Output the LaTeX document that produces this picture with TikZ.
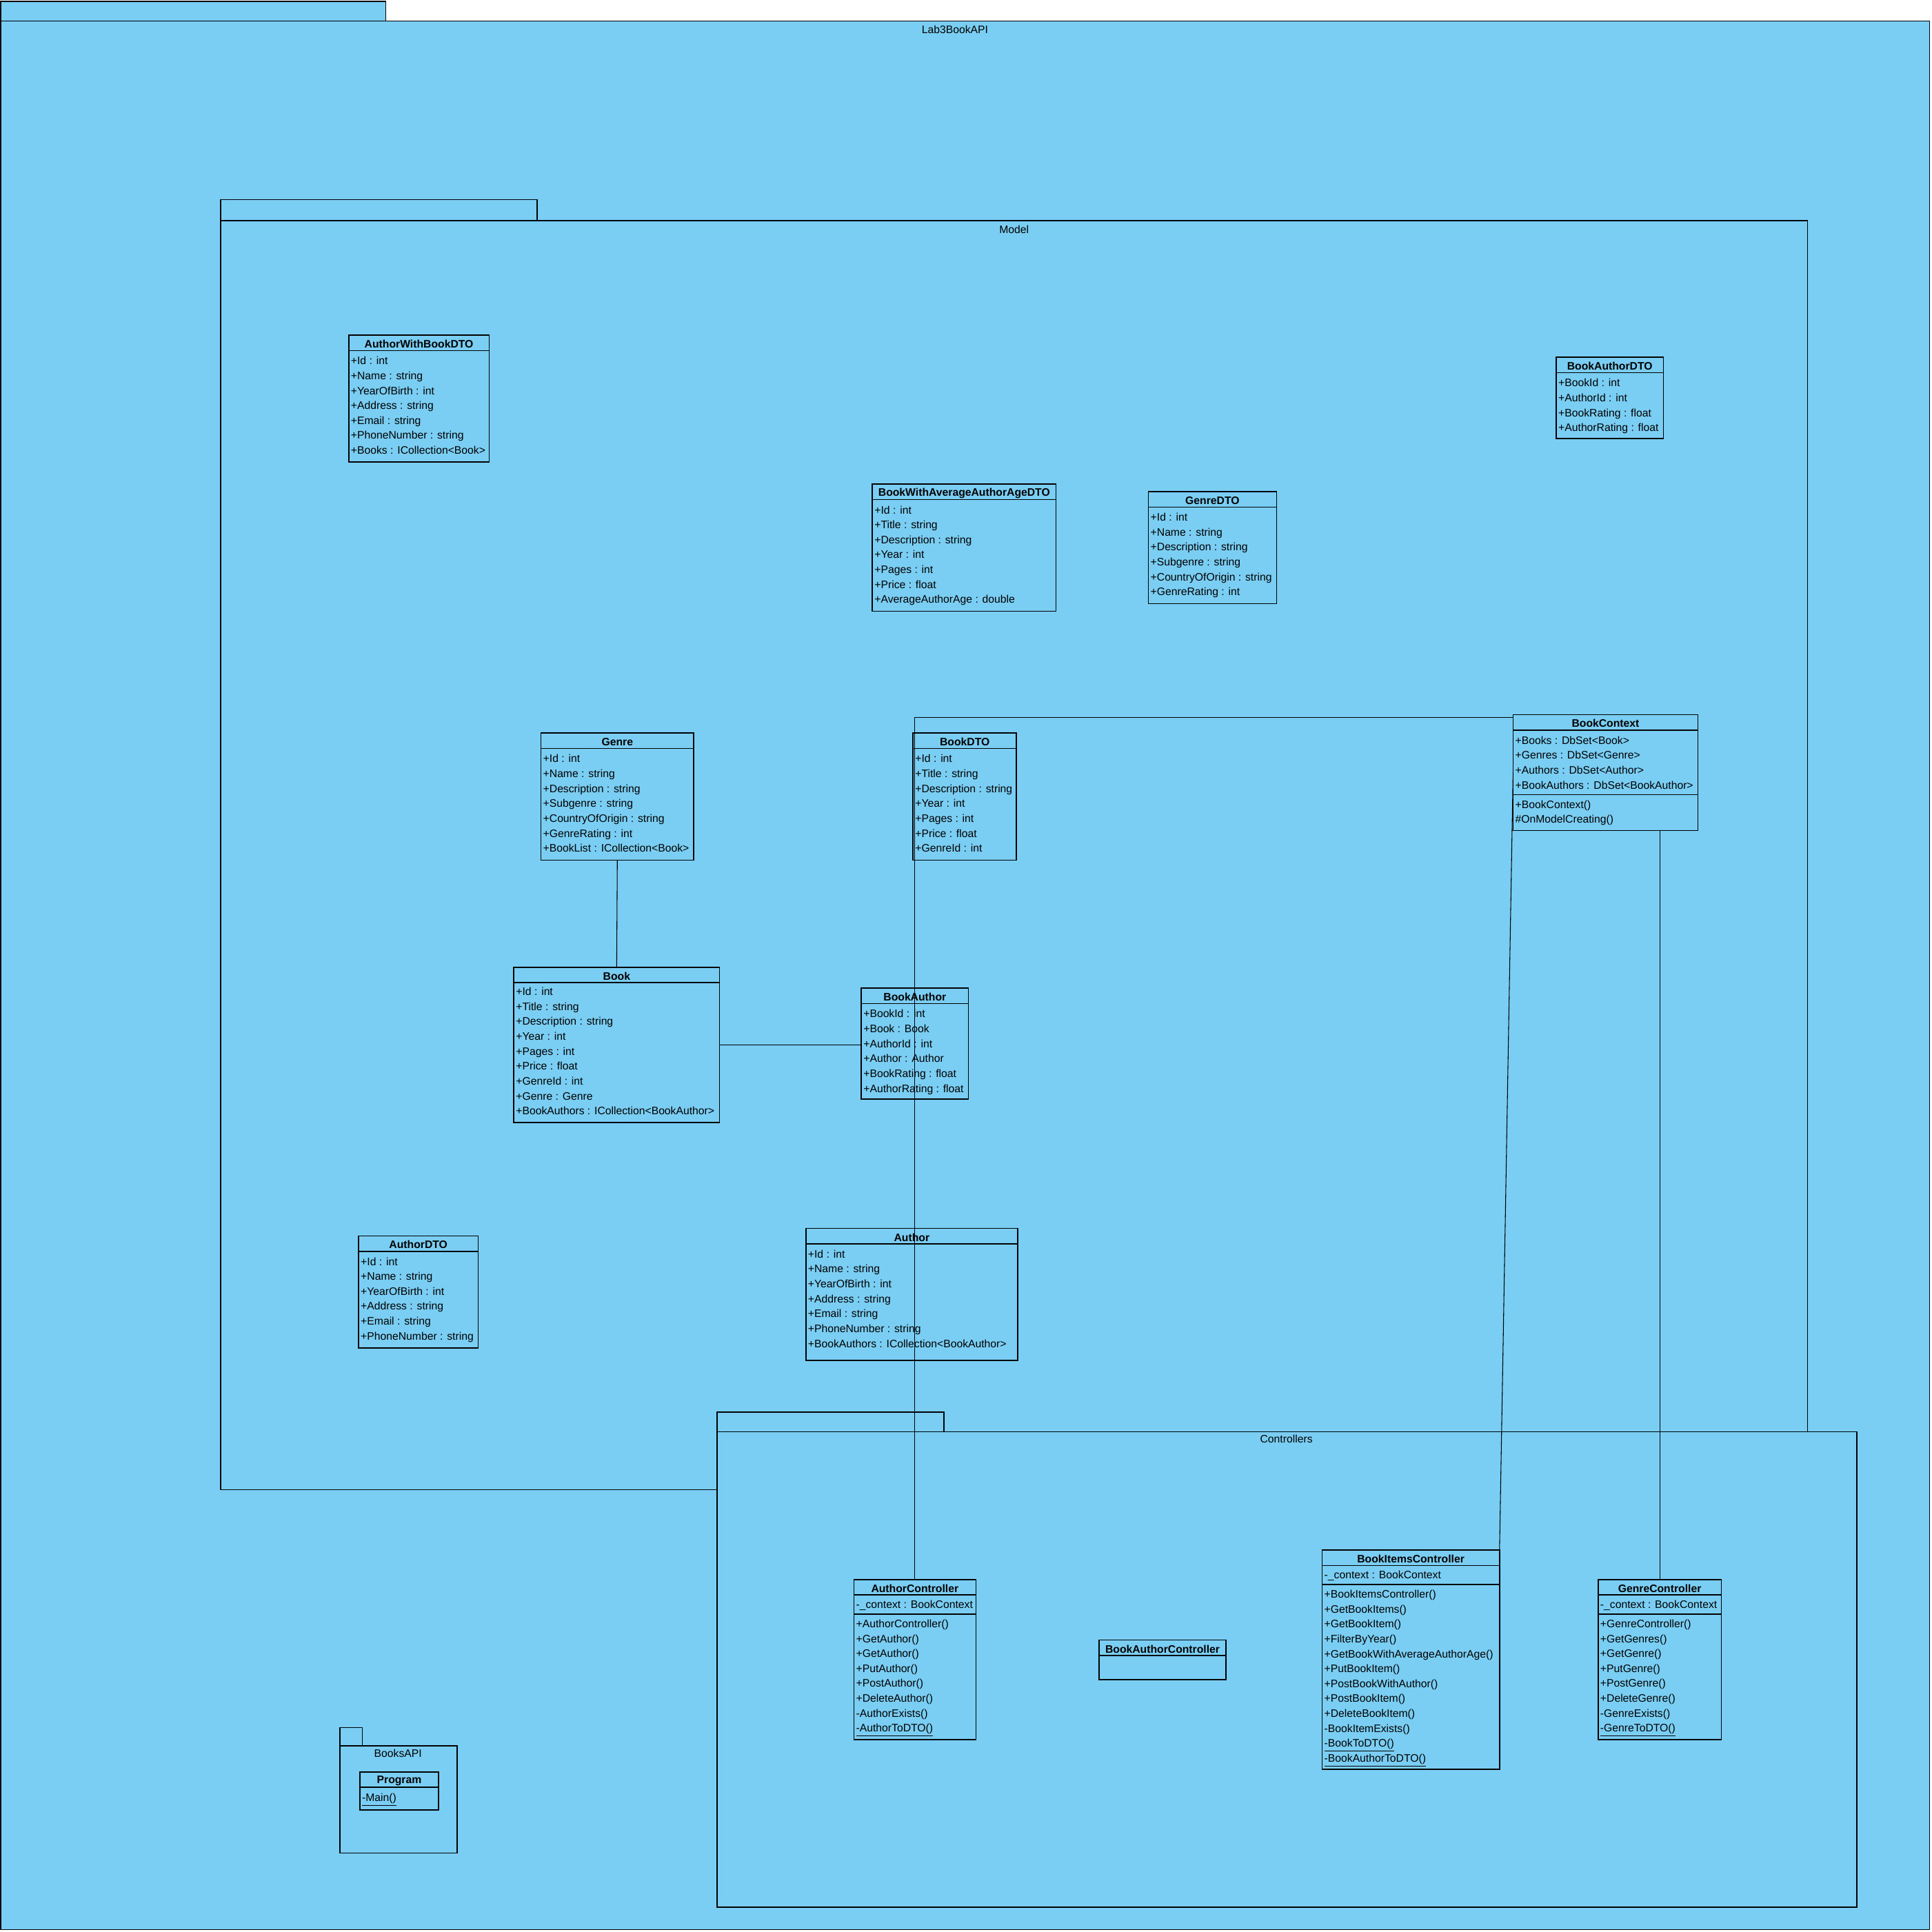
\documentclass[tikz,border=0pt]{standalone}
\usepackage{fontspec}
\setmainfont{Liberation Sans}
\definecolor{pkg}{RGB}{122,206,244}
\tikzset{
 classbox/.style={draw, fill=pkg, line width=0.9pt, inner sep=0pt, outer sep=0pt},
 pkgbox/.style={draw, fill=pkg, line width=0.9pt, inner sep=0pt, outer sep=0pt},
 ttl/.style={font=\fontsize{8.8}{10}\selectfont\bfseries, inner sep=0pt},
 row/.style={font=\fontsize{8.8}{10}\selectfont, inner sep=0pt, anchor=west, text height=6.4pt, text depth=1.8pt},
 sepl/.style={line width=0.9pt},
 conn/.style={line width=0.6pt},
 pkgtitle/.style={font=\fontsize{8.8}{10}\selectfont, inner sep=0pt}
}
\newcommand\boxnode[6]{\node[#6, minimum width={(#4)-(#2)}, minimum height={(#5)-(#3)}] (#1) at ({((#2)+(#4))/2},{((#3)+(#5))/2}) {};}
\newcommand\cls[6]{%
 \boxnode{#1}{#2}{#3}{#4}{#5}{classbox}
 \node[ttl] (#1-t) at ({((#2)+(#4))/2},{(#3)+7.2}) {#6};
 \draw[sepl] (#2,{(#3)+12.5}) -- (#4,{(#3)+12.5});
}
\newcommand\rws[4]{\foreach \t [count=\i] in {#4} {\node[row] (#1-r\i) at ({(#2)+1.6},{(#3)+1.1+(\i-1)*12.1}) {\t};}}
\newcommand\hsep[3]{\draw[sepl] (#1,#3) -- (#2,#3);}
\begin{document}
\begin{tikzpicture}[x=1pt,y=-1pt]
\useasboundingbox (0,0) rectangle (1568,1568);
\fill[white] (0,0) rectangle (1568,1568);
% ---------- packages ----------
\boxnode{labtab}{0.5}{1}{313}{17}{pkgbox}
\boxnode{lab}{0.5}{17}{1566}{1566}{pkgbox}
\node[pkgtitle] (lab-t) at (775,24) {Lab3BookAPI};
\boxnode{modeltab}{179}{162}{436}{179}{pkgbox}
\boxnode{model}{179}{179}{1467}{1209}{pkgbox}
\node[pkgtitle] (model-t) at (823,186) {Model};
\boxnode{ctrltab}{582}{1146}{766}{1162}{pkgbox}
\boxnode{ctrl}{582}{1162}{1507}{1548}{pkgbox}
\node[pkgtitle] (ctrl-t) at (1044,1168) {Controllers};
\boxnode{bapitab}{276}{1402}{294}{1417}{pkgbox}
\boxnode{bapi}{276}{1417}{371}{1504}{pkgbox}
\node[pkgtitle] (bapi-t) at (323,1423) {BooksAPI};
% ---------- classes ----------
\cls{program}{292}{1438}{356}{1469}{Program}
\rws{program-o}{292}{1458.5}{\underline{-Main()}}
\cls{awb}{283}{272}{397}{375}{AuthorWithBookDTO}
\rws{awb-a}{283}{292.5}{+Id : int,+Name : string,+YearOfBirth : int,+Address : string,+Email : string,+PhoneNumber : string,+Books : ICollection<Book>}
\cls{bwa}{708}{393}{857}{496}{BookWithAverageAuthorAgeDTO}
\rws{bwa-a}{708}{413.5}{+Id : int,+Title : string,+Description : string,+Year : int,+Pages : int,+Price : float,+AverageAuthorAge : double}
\cls{genredto}{932}{399}{1036}{490}{GenreDTO}
\rws{genredto-a}{932}{419.5}{+Id : int,+Name : string,+Description : string,+Subgenre : string,+CountryOfOrigin : string,+GenreRating : int}
\cls{badto}{1263}{290}{1350}{356}{BookAuthorDTO}
\rws{badto-a}{1263}{310.5}{+BookId : int,+AuthorId : int,+BookRating : float,+AuthorRating : float}
\cls{genre}{439}{595}{563}{698}{Genre}
\rws{genre-a}{439}{615.5}{+Id : int,+Name : string,+Description : string,+Subgenre : string,+CountryOfOrigin : string,+GenreRating : int,+BookList : ICollection<Book>}
\cls{bookdto}{741}{595}{825}{698}{BookDTO}
\rws{bookdto-a}{741}{615.5}{+Id : int,+Title : string,+Description : string,+Year : int,+Pages : int,+Price : float,+GenreId : int}
\cls{bookcontext}{1228}{580}{1378}{674}{BookContext}
\rws{bookcontext-a}{1228}{600.5}{+Books : DbSet<Book>,+Genres : DbSet<Genre>,+Authors : DbSet<Author>,+BookAuthors : DbSet<BookAuthor>}
\hsep{1228}{1378}{645}
\rws{bookcontext-o}{1228}{652.5}{+BookContext(),\#OnModelCreating()}
\cls{book}{417}{785}{584}{911}{Book}
\rws{book-a}{417}{804.5}{+Id : int,+Title : string,+Description : string,+Year : int,+Pages : int,+Price : float,+GenreId : int,+Genre : Genre,+BookAuthors : ICollection<BookAuthor>}
\cls{bookauthor}{699}{802}{786}{892}{BookAuthor}
\rws{bookauthor-a}{699}{822.5}{+BookId : int,+Book : Book,+AuthorId : int,+Author : Author,+BookRating : float,+AuthorRating : float}
\cls{authordto}{291}{1003}{388}{1094}{AuthorDTO}
\rws{authordto-a}{291}{1023.5}{+Id : int,+Name : string,+YearOfBirth : int,+Address : string,+Email : string,+PhoneNumber : string}
\cls{author}{654}{997}{826}{1104}{Author}
\rws{author-a}{654}{1017.5}{+Id : int,+Name : string,+YearOfBirth : int,+Address : string,+Email : string,+PhoneNumber : string,+BookAuthors : ICollection<BookAuthor>}
\cls{authorctrl}{693}{1282}{792}{1412}{AuthorController}
\rws{authorctrl-a}{693}{1302}{-\_context : BookContext}
\hsep{693}{792}{1310}
\rws{authorctrl-o}{693}{1317.5}{+AuthorController(),+GetAuthor(),+GetAuthor(),+PutAuthor(),+PostAuthor(),+DeleteAuthor(),-AuthorExists(),\underline{-AuthorToDTO()}}
\cls{bactrl}{892}{1331}{995}{1363}{BookAuthorController}
\cls{bictrl}{1073}{1258}{1217}{1436}{BookItemsController}
\rws{bictrl-a}{1073}{1278}{-\_context : BookContext}
\hsep{1073}{1217}{1286}
\rws{bictrl-o}{1073}{1293.5}{+BookItemsController(),+GetBookItems(),+GetBookItem(),+FilterByYear(),+GetBookWithAverageAuthorAge(),+PutBookItem(),+PostBookWithAuthor(),+PostBookItem(),+DeleteBookItem(),-BookItemExists(),\underline{-BookToDTO()},\underline{-BookAuthorToDTO()}}
\cls{genrectrl}{1297}{1282}{1397}{1412}{GenreController}
\rws{genrectrl-a}{1297}{1302}{-\_context : BookContext}
\hsep{1297}{1397}{1310}
\rws{genrectrl-o}{1297}{1317.5}{+GenreController(),+GetGenres(),+GetGenre(),+PutGenre(),+PostGenre(),+DeleteGenre(),-GenreExists(),\underline{-GenreToDTO()}}
% ---------- connectors ----------
\draw[conn] (genre.south) -- (book.north);
\draw[conn] (book.east) -- (book.east -| bookauthor.west);
\draw[conn] ([yshift=-2pt]bookcontext.north west) -| (authorctrl.north);
\draw[conn] (bookcontext.west) -- (bictrl.north east);
\draw[conn] (bookcontext.south -| genrectrl.north) -- (genrectrl.north);
\end{tikzpicture}
\end{document}
